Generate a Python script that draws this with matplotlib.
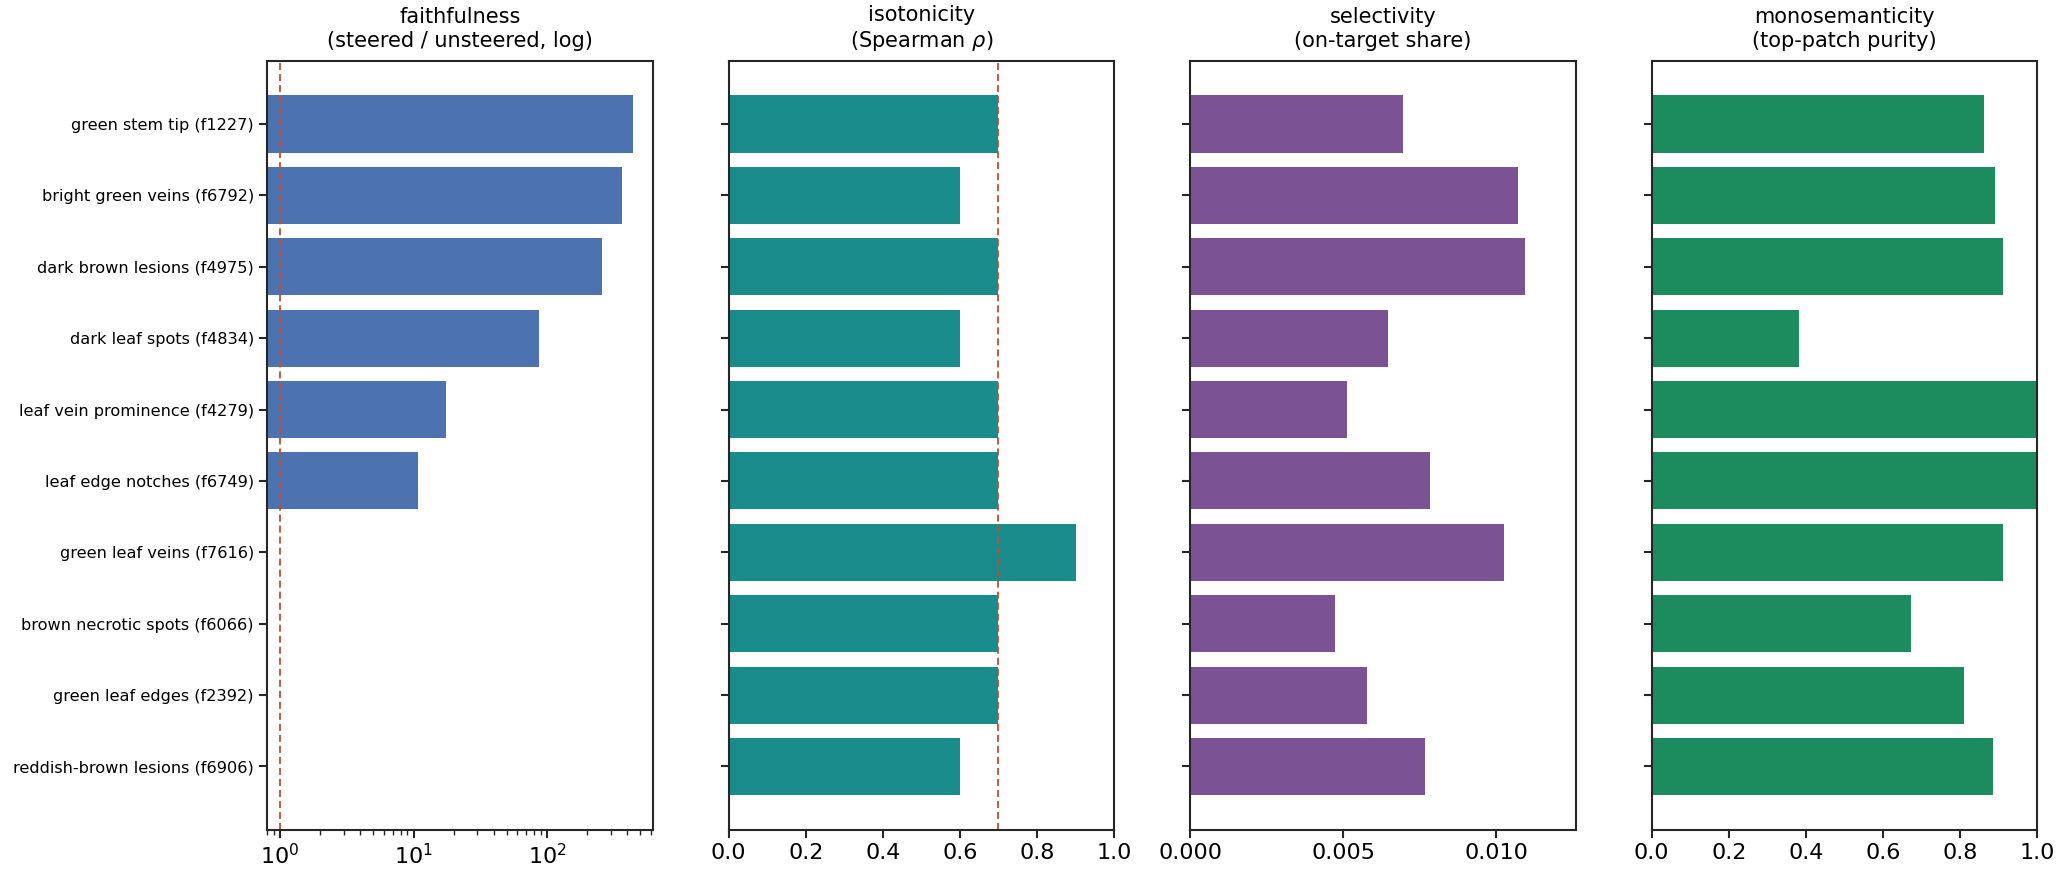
import matplotlib
matplotlib.use("Agg")
import matplotlib.pyplot as plt
import numpy as np

features = [
    "green stem tip (f1227)",
    "bright green veins (f6792)",
    "dark brown lesions (f4975)",
    "dark leaf spots (f4834)",
    "leaf vein prominence (f4279)",
    "leaf edge notches (f6749)",
    "green leaf veins (f7616)",
    "brown necrotic spots (f6066)",
    "green leaf edges (f2392)",
    "reddish-brown lesions (f6906)",
]
faithfulness = [441, 365, 258, 87, 17.5, 10.8, 0.5, 0.5, 0.5, 0.5]
isotonicity = [0.7, 0.6, 0.7, 0.6, 0.7, 0.7, 0.9, 0.7, 0.7, 0.6]
selectivity = [0.00697, 0.01073, 0.01096, 0.00647, 0.00513, 0.00785, 0.01027, 0.00474, 0.00579, 0.00769]
monosemanticity = [0.863, 0.891, 0.912, 0.382, 1.0, 1.0, 0.912, 0.673, 0.811, 0.884]

titles = [
    "faithfulness\n(steered / unsteered, log)",
    "isotonicity\n(Spearman $\\rho$)",
    "selectivity\n(on-target share)",
    "monosemanticity\n(top-patch purity)",
]
colors = ["#4c72b0", "#1b8c8c", "#7b5294", "#1c8c5e"]
ref_color = "#c84b31"
edge = "#262626"

plt.rcParams["font.family"] = ["DejaVu Sans"]
fig, axes = plt.subplots(1, 4, figsize=(20.62, 8.77), dpi=100, sharey=True)
fig.subplots_adjust(left=0.1295, right=0.988, top=0.931, bottom=0.0536, wspace=0.197)

y = np.arange(len(features))
series = [faithfulness, isotonicity, selectivity, monosemanticity]
for ax, vals, col, title in zip(axes, series, colors, titles):
    ax.barh(y, vals, height=0.8, color=col)
    ax.set_title(title, fontsize=15, pad=10)
    for s in ax.spines.values():
        s.set_color(edge)
        s.set_linewidth(1.5)
    ax.tick_params(axis="x", labelsize=16, colors=edge, labelcolor="black", width=1.5, length=6)
    ax.tick_params(axis="y", labelsize=11.6, colors=edge, labelcolor="black", width=1.5, length=6)

ax0 = axes[0]
ax0.set_xscale("log")
ax0.set_xlim(0.8, max(faithfulness) * 1.4)
ax0.axvline(1.0, color=ref_color, linestyle=(0, (3.9, 2.2)), linewidth=1.3)
ax0.tick_params(axis="x", which="minor", colors=edge, width=1.0, length=3.5)

axes[1].set_xlim(0, 1)
axes[1].axvline(0.7, color=ref_color, linestyle=(0, (3.9, 2.2)), linewidth=1.3)
axes[1].set_xticks([0, 0.2, 0.4, 0.6, 0.8, 1.0])

axes[2].set_xlim(0, max(selectivity) * 1.15)
axes[2].set_xticks([0, 0.005, 0.010])
axes[2].set_xticklabels(["0.000", "0.005", "0.010"])

axes[3].set_xlim(0, 1)
axes[3].set_xticks([0, 0.2, 0.4, 0.6, 0.8, 1.0])

ax0.set_yticks(y)
ax0.set_yticklabels(features)
ax0.set_ylim(-0.89, len(features) - 1 + 0.89)
ax0.invert_yaxis()

fig.savefig("out.png", dpi=100)
